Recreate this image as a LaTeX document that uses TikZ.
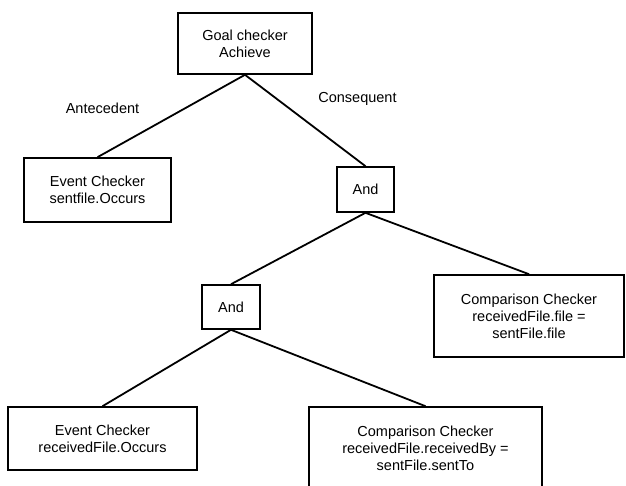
\documentclass[tikz,border=0pt]{standalone}
\usepackage{fontspec}
\setmainfont{Liberation Sans}
\usetikzlibrary{positioning}

\begin{document}
\begin{tikzpicture}[
            x = 1pt,
            y = -1pt,
            on grid,
            checker/.style = {draw, line width=1.6pt, align=center, inner sep=0pt,
                              font=\fontsize{14.5}{17}\selectfont},
            tag/.style = {font=\fontsize{14.5}{17}\selectfont},
            link/.style = {line width=1.8pt}
        ]
        \useasboundingbox (0,0) rectangle (626,486);

        \node[checker, minimum width=134pt, minimum height=61pt] (goal) at (245,43.5) {Goal checker\\Achieve};
        \node[checker, minimum width=147pt, minimum height=64pt, below left=146.5pt and 147.5pt of goal] (ev1) {Event Checker\\sentfile.Occurs};
        \node[checker, minimum width=57pt, minimum height=45pt, below right=146pt and 120.5pt of goal] (and1) {And};
        \node[checker, minimum width=58pt, minimum height=44pt, below left=117.5pt and 134.5pt of and1] (and2) {And};
        \node[checker, minimum width=190pt, minimum height=82pt, below right=126.5pt and 163.5pt of and1] (cmp1) {Comparison Checker\\receivedFile.file =\\sentFile.file};
        \node[checker, minimum width=189pt, minimum height=63pt, below left=131.5pt and 128.5pt of and2] (ev2) {Event Checker\\receivedFile.Occurs};
        \node[checker, minimum width=233pt, minimum height=82pt, below right=141pt and 194.5pt of and2] (cmp2) {Comparison Checker\\receivedFile.receivedBy =\\sentFile.sentTo};

        \node[tag] (ante) at (102.5,108) {Antecedent};
        \node[tag] (cons) at (357.5,98.5) {Consequent};

        \draw[link] (goal.south) -- (ev1.north);
        \draw[link] (goal.south) -- (and1.north);
        \draw[link] (and1.south) -- (and2.north);
        \draw[link] (and1.south) -- (cmp1.north);
        \draw[link] (and2.south) -- (ev2.north);
        \draw[link] (and2.south) -- (cmp2.north);
    \end{tikzpicture}
\end{document}
